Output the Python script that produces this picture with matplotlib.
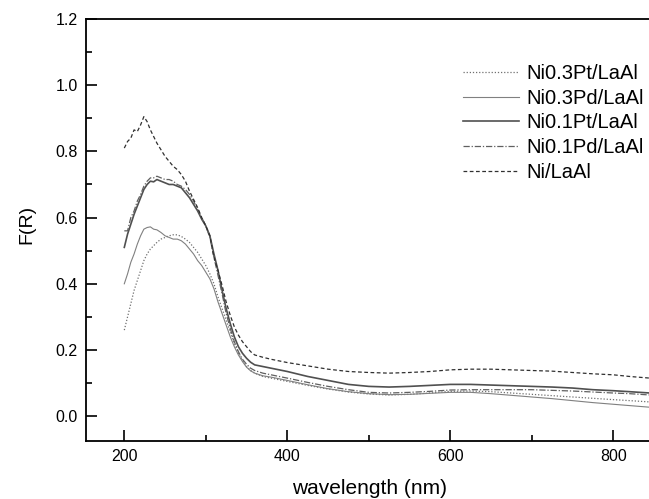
import matplotlib
matplotlib.use("Agg")
import matplotlib.pyplot as plt
from matplotlib.ticker import MultipleLocator

plt.rcParams['font.family'] = ['Liberation Sans', 'DejaVu Sans']

wavelength = [200, 204, 208, 212, 216, 220, 224, 228, 232, 236, 240, 245, 250, 255, 260,
              265, 270, 275, 280, 285, 290, 295, 300, 305, 310, 315, 320, 325, 330, 335,
              340, 345, 350, 355, 360, 370, 380, 400, 425, 450, 475, 500, 525, 550, 575,
              600, 625, 650, 675, 700, 725, 750, 775, 800, 820, 845]

ni03pt = [0.26, 0.30, 0.34, 0.38, 0.41, 0.44, 0.47, 0.49, 0.505, 0.515, 0.525, 0.535, 0.54, 0.545, 0.548,
          0.548, 0.543, 0.535, 0.525, 0.51, 0.495, 0.475, 0.455, 0.43, 0.40, 0.36, 0.325, 0.29, 0.255, 0.22,
          0.19, 0.168, 0.15, 0.138, 0.13, 0.12, 0.115, 0.105, 0.093, 0.082, 0.073, 0.067, 0.064, 0.066, 0.07,
          0.075, 0.076, 0.074, 0.07, 0.066, 0.062, 0.058, 0.054, 0.05, 0.047, 0.043]

ni03pd = [0.40, 0.43, 0.465, 0.49, 0.52, 0.545, 0.565, 0.57, 0.572, 0.565, 0.563, 0.555, 0.545, 0.54, 0.535,
          0.535, 0.53, 0.52, 0.505, 0.49, 0.47, 0.455, 0.435, 0.415, 0.385, 0.345, 0.31, 0.275, 0.24, 0.21,
          0.185, 0.165, 0.148, 0.137, 0.13, 0.122, 0.118, 0.108, 0.095, 0.083, 0.074, 0.068, 0.065, 0.066, 0.069,
          0.072, 0.072, 0.068, 0.063, 0.058, 0.053, 0.047, 0.041, 0.036, 0.032, 0.027]

ni01pt = [0.51, 0.55, 0.58, 0.61, 0.635, 0.66, 0.685, 0.70, 0.71, 0.708, 0.715, 0.71, 0.705, 0.70, 0.70,
          0.695, 0.69, 0.675, 0.66, 0.64, 0.62, 0.595, 0.575, 0.545, 0.49, 0.44, 0.38, 0.325, 0.28, 0.24,
          0.21, 0.19, 0.175, 0.163, 0.155, 0.15, 0.145, 0.135, 0.12, 0.108, 0.096, 0.09, 0.088, 0.09, 0.093,
          0.096, 0.096, 0.094, 0.092, 0.09, 0.088, 0.085, 0.08, 0.077, 0.074, 0.07]

ni01pd = [0.56, 0.56, 0.60, 0.62, 0.65, 0.67, 0.695, 0.71, 0.72, 0.72, 0.725, 0.72, 0.715, 0.715, 0.71,
          0.70, 0.695, 0.685, 0.67, 0.65, 0.625, 0.60, 0.575, 0.54, 0.48, 0.425, 0.37, 0.31, 0.265, 0.225,
          0.195, 0.172, 0.157, 0.145, 0.138, 0.13, 0.125, 0.115, 0.102, 0.09, 0.08, 0.072, 0.07, 0.072, 0.075,
          0.079, 0.08, 0.08, 0.08, 0.08, 0.078, 0.076, 0.073, 0.07, 0.068, 0.064]

ni_laal = [0.81, 0.83, 0.84, 0.865, 0.86, 0.88, 0.905, 0.89, 0.865, 0.845, 0.825, 0.805, 0.785, 0.77, 0.755,
           0.745, 0.73, 0.71, 0.68, 0.655, 0.63, 0.60, 0.575, 0.545, 0.48, 0.44, 0.395, 0.345, 0.305, 0.27,
           0.245, 0.225, 0.21, 0.195, 0.185, 0.178, 0.172, 0.162, 0.152, 0.142, 0.135, 0.132, 0.13, 0.132, 0.135,
           0.14, 0.142, 0.142, 0.14, 0.138, 0.136, 0.132, 0.128, 0.125, 0.12, 0.115]

labels = ["Ni0.3Pt/LaAl", "Ni0.3Pd/LaAl", "Ni0.1Pt/LaAl", "Ni0.1Pd/LaAl", "Ni/LaAl"]

W, H = 649, 499
fig = plt.figure(figsize=(W / 100, H / 100), dpi=100)
left_px, right_px, top_px, bottom_px = 86, 654, 19, 441
ax = fig.add_axes([left_px / W, 1 - bottom_px / H, (right_px - left_px) / W, (bottom_px - top_px) / H])

ax.plot(wavelength, ni03pt, color='#707070', lw=0.9, ls=(0, (1, 1.5)), label=labels[0])
ax.plot(wavelength, ni03pd, color='#808080', lw=0.8, ls='-', label=labels[1])
ax.plot(wavelength, ni01pt, color='#505050', lw=1.2, ls='-', label=labels[2])
ax.plot(wavelength, ni01pd, color='#606060', lw=0.9, ls=(0, (5, 1.5, 1, 1.5)), label=labels[3])
ax.plot(wavelength, ni_laal, color='#303030', lw=0.9, ls=(0, (3, 2)), label=labels[4])

ax.set_xlim(153, 850)
ax.set_ylim(-0.075, 1.2)
ax.xaxis.set_major_locator(MultipleLocator(200))
ax.xaxis.set_minor_locator(MultipleLocator(100))
ax.yaxis.set_major_locator(MultipleLocator(0.2))
ax.yaxis.set_minor_locator(MultipleLocator(0.1))
ax.yaxis.set_major_formatter(matplotlib.ticker.FormatStrFormatter('%.1f'))
ax.tick_params(which='major', direction='in', length=8, width=1.2, labelsize=11.5, pad=6)
ax.tick_params(which='minor', direction='in', length=4, width=1.2)
ax.tick_params(axis='x', which='both', top=False)
ax.tick_params(axis='y', which='both', right=False)
for s in ax.spines.values():
    s.set_linewidth(1.3)

ax.set_xlabel("wavelength (nm)", fontsize=15)
ax.set_ylabel("F(R)", fontsize=14)
ax.xaxis.set_label_coords(0.5, -0.09)
ax.yaxis.set_label_coords(-0.09, 0.514)

ax.legend(loc='upper left', bbox_to_anchor=(463 / W, 1 - 64 / H), bbox_transform=fig.transFigure,
          frameon=False, fontsize=14.5, handlelength=2.8, handletextpad=0.35, labelspacing=0.28,
          borderpad=0, borderaxespad=0)

fig.savefig("out.png", dpi=100)
